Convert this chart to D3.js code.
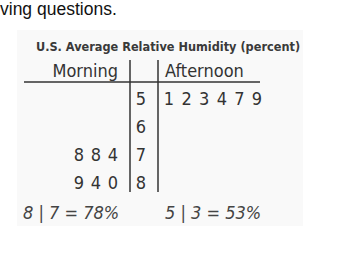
<!DOCTYPE html>
<html><head><meta charset="utf-8">
<script src="https://cdn.jsdelivr.net/npm/d3@7"></script>
<style>
html,body{margin:0;padding:0;background:#fff;overflow:hidden}
svg{display:block}
</style></head>
<body>
<script>
const stems = [5, 6, 7, 8];
const morningLeaves = [[], [], [4, 8, 8], [0, 4, 9]];
const afternoonLeaves = [[1, 2, 3, 4, 7, 9], [], [], []];
const headers = ["Morning", "Afternoon"];
const title = "U.S. Average Relative Humidity (percent)";
const keyLeft = "8 | 7 = 78%";
const keyRight = "5 | 3 = 53%";
const intro = "ving questions.";

const W = 337, H = 275;
const svg = d3.select("body").append("svg").attr("width", W).attr("height", H);
const narrow = "'Liberation Sans Narrow','DejaVu Sans Condensed','Arial Narrow',sans-serif";

svg.append("rect").attr("x", 17).attr("y", 30).attr("width", 286).attr("height", 196).attr("fill", "#f9f9f9");

svg.append("text").attr("x", 0).attr("y", 15).attr("font-family", "'Liberation Sans',Arial,sans-serif")
  .attr("font-size", 17.5).attr("fill", "#111").text(intro);

svg.append("text").attr("x", 168).attr("y", 51).attr("text-anchor", "middle")
  .attr("font-family", narrow).attr("font-weight", "bold").attr("font-size", 12.6)
  .attr("fill", "#3a3a3a").text(title);

const y = d3.scaleBand().domain(stems).range([85, 197]);
const stemX = 141, lineL = 130, lineR = 158;
const leafR = d3.scaleLinear().domain([0, 5]).range([169, 257]);
const leafL = d3.scaleLinear().domain([0, 2]).range([113, 79]);

const g = svg.append("g").attr("fill", "#333").attr("font-family", narrow).attr("font-size", 18);

g.append("text").attr("x", 118).attr("y", 77).attr("text-anchor", "end").text(headers[0]);
g.append("text").attr("x", 165).attr("y", 77).text(headers[1]);

svg.append("line").attr("x1", 24).attr("x2", 260).attr("y1", 82).attr("y2", 82).attr("stroke", "#333").attr("stroke-width", 1.5);
[lineL, lineR].forEach(x => svg.append("line").attr("x1", x).attr("x2", x).attr("y1", 60).attr("y2", 192)
  .attr("stroke", "#333").attr("stroke-width", 1.5));

stems.forEach((s, i) => {
  const cy = y(s) + y.bandwidth() / 2;
  g.append("text").attr("x", stemX).attr("y", cy).attr("dy", "0.35em").attr("text-anchor", "middle").text(s);
  afternoonLeaves[i].forEach((l, j) => g.append("text").attr("x", leafR(j)).attr("y", cy).attr("dy", "0.35em").attr("text-anchor", "middle").text(l));
  morningLeaves[i].forEach((l, j) => g.append("text").attr("x", leafL(j)).attr("y", cy).attr("dy", "0.35em").attr("text-anchor", "middle").text(l));
});

const k = svg.append("g").attr("fill", "#444").attr("font-family", narrow).attr("font-size", 18).attr("font-style", "italic");
k.append("text").attr("x", 23).attr("y", 219).text(keyLeft);
k.append("text").attr("x", 165).attr("y", 219).text(keyRight);
</script>
</body></html>
